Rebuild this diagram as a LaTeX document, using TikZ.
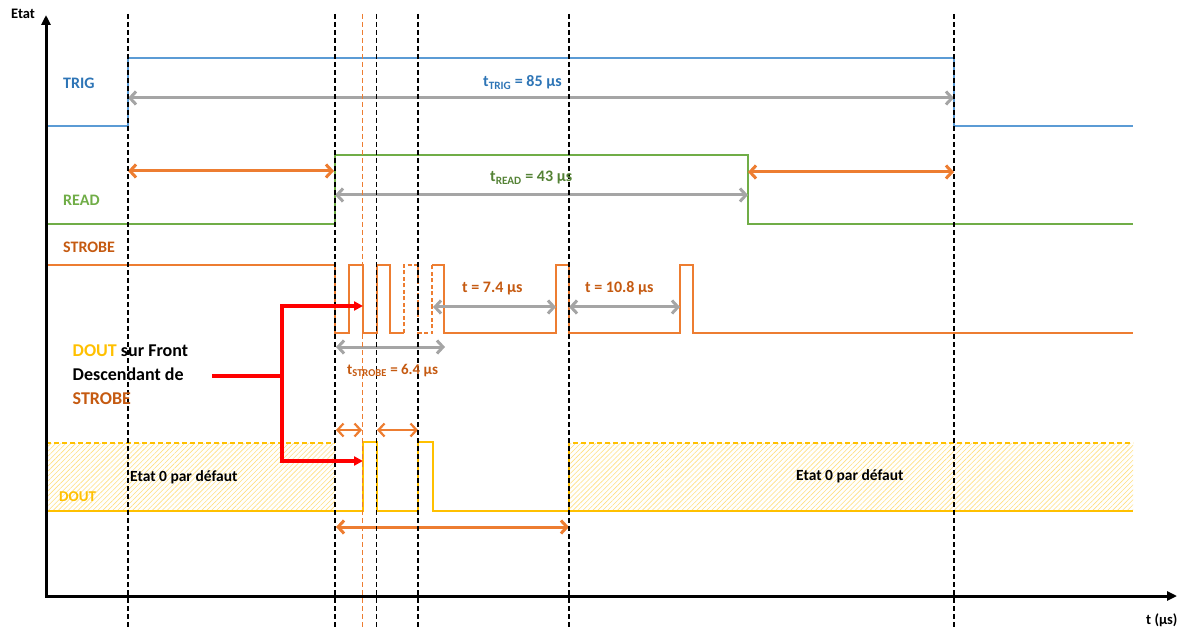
\documentclass[tikz,border=0pt]{standalone}
\usepackage{fontspec}
\setmainfont{Carlito}
\usepackage{tikz}
\usetikzlibrary{arrows.meta,patterns.meta}
\definecolor{trigblue}{HTML}{5B9BD5}
\definecolor{trigtxt}{HTML}{2E75B6}
\definecolor{readgreen}{HTML}{70AD47}
\definecolor{readtxt}{HTML}{548235}
\definecolor{strobeor}{HTML}{ED7D31}
\definecolor{strobetxt}{HTML}{C55A11}
\definecolor{durgray}{HTML}{A5A5A5}
\definecolor{doutyel}{HTML}{FFC000}
\definecolor{redc}{HTML}{FF0000}

\begin{document}
\begin{tikzpicture}[x=1pt,y=-1pt,
lbl/.style={font=\bfseries\fontsize{16}{19}\selectfont,anchor=base west,inner sep=0pt},
sig/.style={line width=2pt},
guide/.style={line width=1.5pt,dash pattern=on 5pt off 3pt},
axis/.style={line width=3pt,-{Triangle[length=10pt,width=9pt]}},
dur/.style={{Straight Barb[length=6pt,width=13pt]}-{Straight Barb[length=6pt,width=13pt]},line width=3pt},
hatch/.style={pattern={Lines[angle=45,distance=3.5pt,line width=0.6pt]},pattern color=doutyel!50},
redarr/.style={-{Triangle[length=9pt,width=9pt]},line width=3.2pt,color=redc}
]
\useasboundingbox (0,0) rectangle (1186,628);

% default state areas of DOUT
\fill[hatch] (46,443) rectangle (335,511);
\fill[hatch] (569,443) rectangle (1133,511);

% signals
\draw[sig,trigblue] (46,126) -- (128,126) -- (128,58) -- (954,58) -- (954,126) -- (1133,126);
\draw[sig,readgreen] (46,224) -- (335,224) -- (335,155) -- (748,155) -- (748,224) -- (1133,224);
\draw[sig,strobeor] (46,265) -- (335,265) -- (335,333) -- (349,333) -- (349,265) -- (362.7,265)
  -- (362.7,333) -- (376.7,333) -- (376.7,265) -- (390,265) -- (390,333) -- (404,333);
\draw[sig,strobeor,dash pattern=on 4pt off 2.5pt] (404,333) -- (404,265) -- (418,265) -- (418,333) -- (432,333) -- (432,265);
\draw[sig,strobeor] (432,265) -- (444,265) -- (444,333) -- (556,333) -- (556,265) -- (569,265)
  -- (569,333) -- (680,333) -- (680,265) -- (693,265) -- (693,333) -- (1133,333);
\draw[sig,doutyel,dash pattern=on 5pt off 3pt] (46,443) -- (335,443);
\draw[sig,doutyel,dash pattern=on 5pt off 3pt] (569,511) -- (569,443) -- (1133,443);
\draw[sig,doutyel] (46,511) -- (362.7,511) -- (362.7,442) -- (376.7,442) -- (376.7,511) -- (418,511)
  -- (418,442) -- (432.7,442) -- (432.7,511) -- (1133,511);

% durations
\draw[dur,durgray] (128,98) -- (954,98);
\draw[dur,durgray] (335,195) -- (748,195);
\draw[dur,durgray] (433,307) -- (556,307);
\draw[dur,durgray] (569,307) -- (680,307);
\draw[dur,durgray] (336,347) -- (445,347);
\draw[dur,strobeor] (128,171) -- (334,171);
\draw[dur,strobeor] (748,172) -- (954,172);
\draw[dur,strobeor,line width=2.2pt] (336,430) -- (362,430);
\draw[dur,strobeor,line width=2.2pt] (377,430) -- (418,430);
\draw[dur,strobeor] (336,527) -- (569,527);

% time marks
\foreach \x in {128,335,376.7,418,569,954} \draw[guide] (\x,14) -- (\x,628);
\draw[guide,strobeor] (362.7,14) -- (362.7,628);

% axes
\draw[axis] (46,597) -- (46,15);
\draw[axis] (45,596) -- (1177,596);
\node[lbl,font=\bfseries\fontsize{14.5}{17}\selectfont] (etat) at (11,19) {Etat};
\node[lbl,font=\bfseries\fontsize{14.5}{17}\selectfont] (tunit) at (1146,624) {t (µs)};

% signal names
\node[lbl,text=trigtxt] (trigname) at (63,89) {TRIG};
\node[lbl,text=readgreen] (readname) at (63,205.5) {READ};
\node[lbl,text=strobetxt] (strobename) at (63,252.5) {STROBE};
\node[lbl,text=doutyel,font=\bfseries\fontsize{15}{18}\selectfont] (doutname) at (59,501) {DOUT};

% duration labels
\node[lbl,text=trigtxt] (ttrig) at (483,86.5) {t\textsubscript{TRIG} = 85 µs};
\node[lbl,text=readtxt] (tread) at (490,181.5) {t\textsubscript{READ} = 43 µs};
\node[lbl,text=strobetxt] (tlow1) at (462,292.5) {t = 7.4 µs};
\node[lbl,text=strobetxt] (tlow2) at (585,292.5) {t = 10.8 µs};
\node[lbl,text=strobetxt,font=\bfseries\fontsize{15}{18}\selectfont] (tstrobe) at (347,374) {t\textsubscript{STROBE} = 6.4 µs};
\node[lbl,font=\bfseries\fontsize{15.5}{18}\selectfont] (default1) at (130,481.5) {Etat 0 par défaut};
\node[lbl,font=\bfseries\fontsize{15.5}{18}\selectfont] (default2) at (796,480) {Etat 0 par défaut};

% note on falling edges
\node[lbl,anchor=north west,align=left,font=\bfseries\fontsize{18}{24}\selectfont] (note) at (72.5,344.5)
  {\textcolor{doutyel}{DOUT} sur Front\\Descendant de\\\textcolor{strobetxt}{STROBE}};
\coordinate (fork) at (282,376);
\coordinate (fall1) at (363,306);
\coordinate (fall2) at (363,461);
\draw[redarr] (212,376) -- (fork) |- (fall1);
\draw[redarr] (fork) |- (fall2);
\end{tikzpicture}
\end{document}
